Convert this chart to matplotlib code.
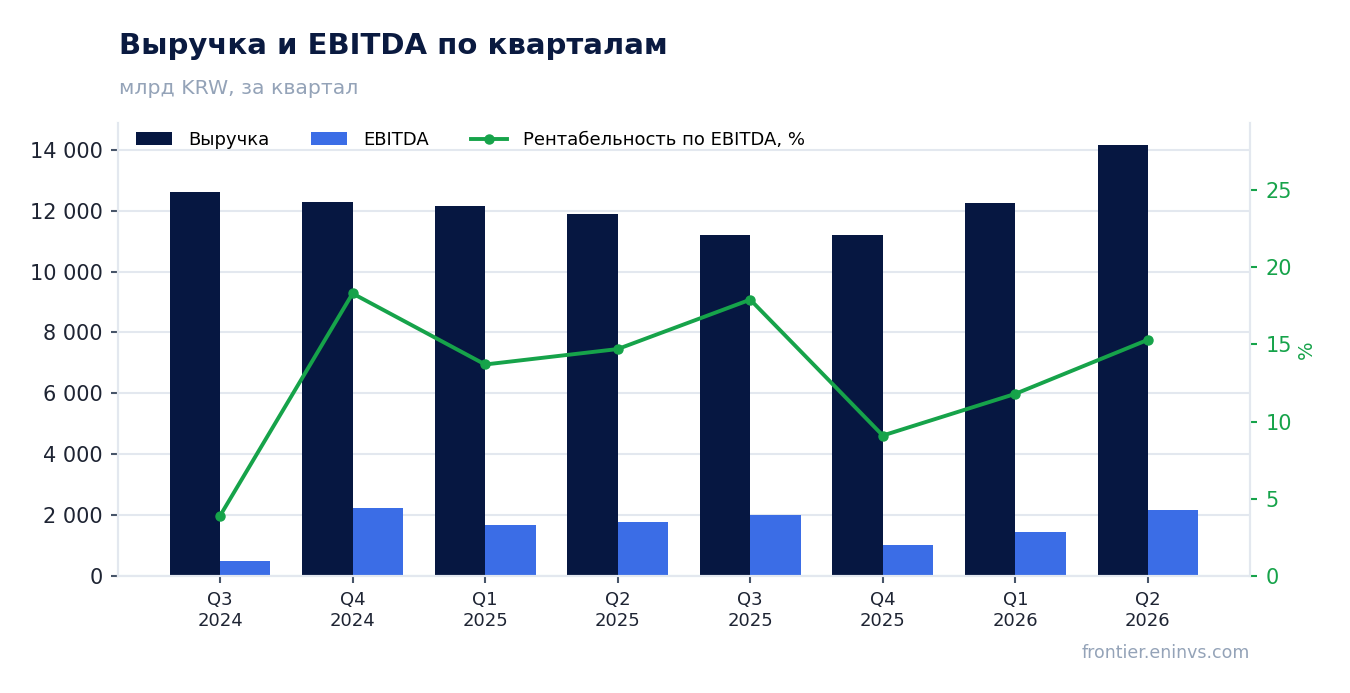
import numpy as np
import matplotlib.pyplot as plt

# данные по кварталам (млрд KRW)
quarters = ["Q3\n2024", "Q4\n2024", "Q1\n2025", "Q2\n2025",
            "Q3\n2025", "Q4\n2025", "Q1\n2026", "Q2\n2026"]
revenue = [12620, 12290, 12160, 11900, 11210, 11210, 12260, 14160]
ebitda = [490, 2235, 1675, 1775, 2005, 1020, 1445, 2170]
margin = [3.9, 18.3, 13.7, 14.7, 17.9, 9.1, 11.8, 15.3]

NAVY = "#061741"
BLUE = "#3b6de6"
GREEN = "#16a34a"
GRID = "#e3e8ef"
MUTED = "#94a3b8"
TEXT = "#1e2433"

plt.rcParams['font.family'] = ['DejaVu Sans']

fig = plt.figure(figsize=(13.5, 6.93), dpi=100)
ax = fig.add_axes([0.0874, 0.1688, 0.8385, 0.6537])
ax2 = ax.twinx()

x = np.arange(len(quarters))
w = 0.38
ax.bar(x - w / 2, revenue, w, color=NAVY, label="Выручка", zorder=2)
ax.bar(x + w / 2, ebitda, w, color=BLUE, label="EBITDA", zorder=2)
ax2.plot(x, margin, color=GREEN, linewidth=2.8, marker='o', markersize=6.5,
         label="Рентабельность по EBITDA, %", zorder=3)

ax.set_xlim(-0.77, 7.77)
ax.set_ylim(0, 14880)
ax2.set_ylim(0, 29.34)

ax.set_yticks(range(0, 14001, 2000))
ax.set_yticklabels([f"{v:,}".replace(",", " ") for v in range(0, 14001, 2000)])
ax.set_xticks(x)
ax.set_xticklabels(quarters)
ax2.set_yticks(range(0, 26, 5))

ax.grid(axis='y', color=GRID, linewidth=1.5, zorder=0)
ax.set_axisbelow(True)

for a in (ax, ax2):
    a.spines['top'].set_visible(False)
    for s in ('left', 'right', 'bottom'):
        a.spines[s].set_color(GRID)
        a.spines[s].set_linewidth(1.5)

ax.tick_params(axis='y', labelsize=15, colors="#475569", labelcolor=TEXT, length=5, width=1.5, pad=6)
ax.tick_params(axis='x', labelsize=13, colors="#475569", labelcolor=TEXT, length=5, width=1.5, pad=6)
ax2.tick_params(axis='y', labelsize=15, colors=GREEN, labelcolor=GREEN, length=5, width=1.5, pad=6)
ax2.set_ylabel("%", color=GREEN, fontsize=14, labelpad=4)

# ось с линией поверх столбиков
ax.set_zorder(1)
ax.patch.set_visible(False)
ax2.set_zorder(2)

h1, l1 = ax.get_legend_handles_labels()
h2, l2 = ax2.get_legend_handles_labels()
ax2.legend(h1 + h2, l1 + l2, loc='upper left', bbox_to_anchor=(0.0097, 0.998),
           ncol=3, frameon=False, fontsize=13, handlelength=2.0,
           columnspacing=2.3, handletextpad=0.9, borderaxespad=0.0)

fig.text(0.088, 0.922, "Выручка и EBITDA по кварталам", fontsize=21,
         fontweight='bold', color="#0a1a40", va='baseline')
fig.text(0.088, 0.864, "млрд KRW, за квартал", fontsize=14.7,
         color=MUTED, va='baseline')
fig.text(0.9259, 0.05, "frontier.eninvs.com", fontsize=12.5,
         color=MUTED, ha='right', va='baseline')

fig.savefig("out.png", dpi=100)
